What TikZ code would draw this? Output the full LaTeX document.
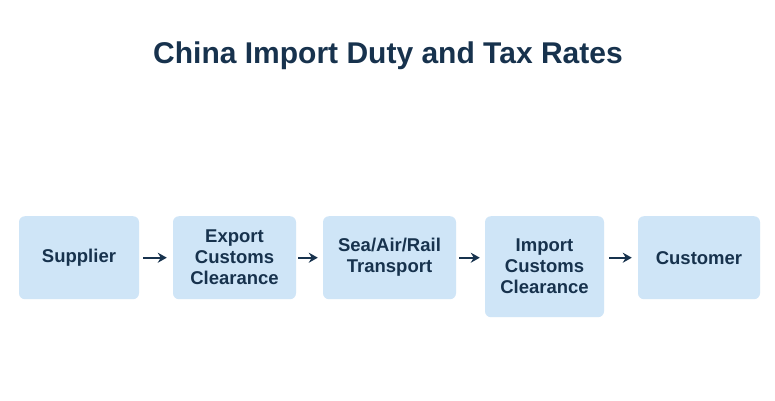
\documentclass[tikz,border=0pt]{standalone}
\usepackage{fontspec}
\setmainfont{Liberation Sans}
\usepackage{tikz}
\usetikzlibrary{arrows.meta, positioning}
\definecolor{NavyText}{HTML}{17324D}
\definecolor{BoxBlue}{HTML}{CFE5F7}
\tikzset{
  stagebox/.style={rectangle, rounded corners=6pt, fill=BoxBlue, draw=none, anchor=north, minimum height=83pt, align=center, text=NavyText, font=\fontsize{18.5}{21}\selectfont\bfseries},
  arrow/.style={-{Stealth[length=9pt, width=10pt]}, line width=2.4pt, NavyText}
}
\begin{document}
\begin{tikzpicture}[x=1pt, y=-1pt]
  \useasboundingbox[fill=white] (0,0) rectangle (775,400);
  \node[font=\fontsize{30}{34}\selectfont\bfseries, text=NavyText] (title) at (388,56) {China Import Duty and Tax Rates};

  \node[stagebox, minimum width=120pt] (supplier) at (79,216) {Supplier};
  \node[stagebox, minimum width=123pt] (export) at (234.5,216) {Export\\Customs\\Clearance};
  \node[stagebox, minimum width=133pt] (transport) at (389.5,216) {Sea/Air/Rail\\Transport};
  \node[stagebox, minimum width=119pt, minimum height=101pt] (import) at (544.5,216) {Import\\Customs\\Clearance};
  \node[stagebox, minimum width=122pt] (customer) at (699,216) {Customer};

  \draw[arrow] ([xshift=4pt]supplier.east) -- ([xshift=-6pt]export.west);
  \draw[arrow] ([xshift=2pt]export.east) -- ([xshift=-5pt]transport.west);
  \draw[arrow] ([xshift=3pt]transport.east) -- ([xshift=-5pt]import.west |- transport.east);
  \draw[arrow] ([xshift=5pt]import.east |- customer.west) -- ([xshift=-6pt]customer.west);
\end{tikzpicture}
\end{document}
